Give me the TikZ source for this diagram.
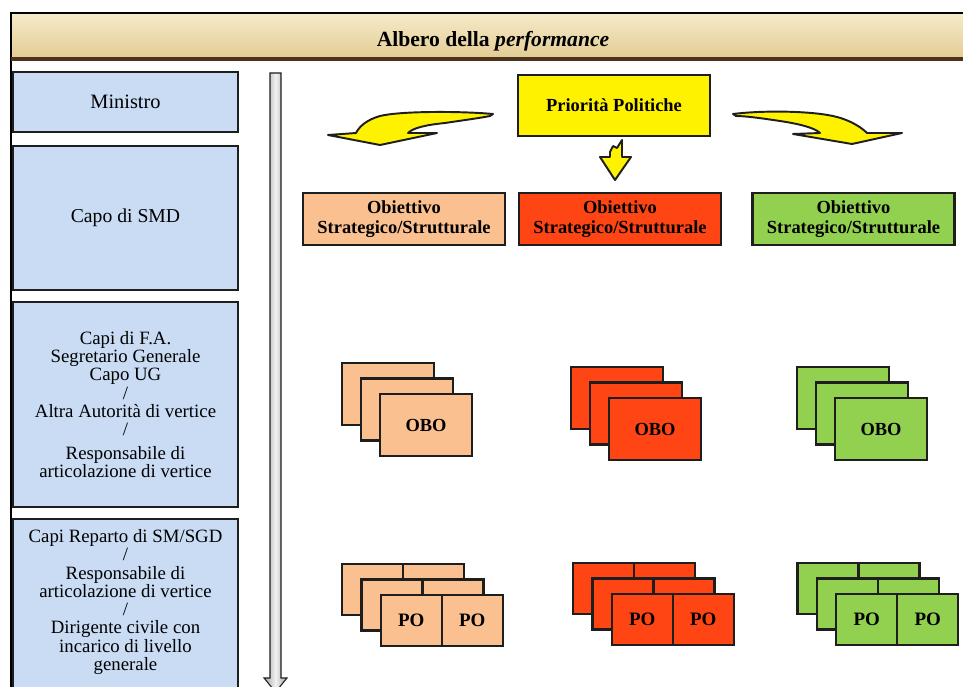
\documentclass[tikz,border=0pt]{standalone}
\usepackage{fontspec}
\setmainfont{Liberation Serif}
\usepackage{tikz}

\definecolor{parch}{HTML}{F2E1B2}
\definecolor{parchdark}{HTML}{E3CC93}
\definecolor{lblue}{HTML}{C9DCF4}
\definecolor{peach}{HTML}{FAC08F}
\definecolor{redor}{HTML}{FF4514}
\definecolor{lgreen}{HTML}{92D050}
\definecolor{edge}{HTML}{1E1E1E}

\begin{document}
\begin{tikzpicture}[x=0.02cm,y=-0.02cm,
  box/.style={draw=edge,line width=1.3pt,inner sep=2pt,align=center},
  lbox/.style={box,fill=lblue,minimum width=4.5cm,font=\fontsize{10.7}{10.4}\selectfont},
  obj/.style={box,minimum width=4.04cm,minimum height=1.04cm,font=\bfseries\fontsize{10.5}{11.4}\selectfont},
  obo/.style={box,minimum width=1.84cm,minimum height=1.24cm,font=\bfseries\fontsize{10.5}{12}\selectfont},
  po/.style={box,minimum width=1.22cm,minimum height=1.02cm,font=\bfseries\fontsize{10.8}{12}\selectfont},
  curvy/.style={fill=yellow,draw=edge,line width=1.1pt,line join=round}]

\useasboundingbox (0,0) rectangle (963,686);
\clip (0,0) rectangle (963,686);

% testata
\shade[top color=parch!70!white,bottom color=parchdark] (11,13) rectangle (970,59);
\draw[line width=1.7pt] (11,700) -- (11,13) -- (970,13);
\draw[line width=2pt,brown!40!black] (11,59) -- (970,59);
\node[font=\bfseries\fontsize{12.3}{14}\selectfont] (titolo) at (493,41) {Albero della \textit{performance}};

% colonna dei livelli
\node[lbox,minimum height=1.2cm,font=\fontsize{11.6}{13}\selectfont] (ministro) at (125.5,102) {Ministro};
\node[lbox,minimum height=2.88cm,font=\fontsize{11.2}{13}\selectfont] (smd) at (125.5,218) {Capo di SMD};
\node[lbox,minimum height=4.1cm] (capifa) at (125.5,404.5) {Capi di F.A.\\Segretario Generale\\Capo UG\\/\\Altra Autorità di vertice\\/\\[3pt]Responsabile di\\articolazione di vertice};
\node[lbox,minimum height=4.02cm] (reparto) at (125.5,619.5) {};
\node[align=center,font=\fontsize{10.7}{10.4}\selectfont] (repartotxt) at (125.5,602) {Capi Reparto di SM/SGD\\/\\Responsabile di\\articolazione di vertice\\/\\Dirigente civile con\\incarico di livello\\generale};

% freccia verticale
\draw[draw=edge,line width=0.6pt,left color=gray!75,right color=gray!75,middle color=gray!10]
  (270,73) -- (281,73) -- (281,678) -- (287,678) -- (275.5,692) -- (264,678) -- (270,678) -- cycle;

% priorita
\node[box,fill=yellow,minimum width=3.84cm,minimum height=1.22cm,font=\bfseries\fontsize{10.5}{12}\selectfont] (priorita) at (614,105.5) {Priorità Politiche};

\draw[curvy] (493,114) .. controls (460,111) and (400,111) .. (380,116)
  .. controls (366,120) and (359,127) .. (356,133) -- (328,135) -- (380,145) -- (437,133) -- (408,133)
  .. controls (413,128) and (425,125) .. (445,123) .. controls (465,120) and (480,118) .. (490,116) -- cycle;
\draw[curvy] (733,114) .. controls (765,110) and (815,111) .. (837,117)
  .. controls (852,121) and (862,128) .. (867,133) -- (902,133) -- (852,144) -- (793,134) -- (820,133)
  .. controls (815,128) and (800,124) .. (780,121) .. controls (760,118) and (745,116) .. (736,116) -- cycle;
\draw[curvy] (610,152) -- (613,146) -- (617,148) -- (622,140) -- (622,157) -- (631,157) -- (615,180)
  -- (600,157) -- (610,157) -- cycle;

% obiettivi strategici/strutturali
\foreach \c/\x/\n in {peach/404/os1,redor/620/os2,lgreen/853.5/os3}
  \node[obj,fill=\c] (\n) at (\x,219) {Obiettivo\\Strategico/Strutturale};

% OBO
\foreach \c/\x/\y/\s in {peach/388/394/a,redor/617/398/b,lgreen/843/398/c}{
  \foreach \k in {0,1,2}
    \node[obo,fill=\c] (obo\s\k) at ({\x+19*\k},{\y+15.5*\k}) {\ifnum\k=2 OBO\fi};
}

% PO
\foreach \c/\x/\y/\s in {peach/372.5/589.5/a,redor/603.5/588.5/b,lgreen/828/588.5/c}{
  \foreach \k in {0,1,2}{
    \node[po,fill=\c] (po\s\k l) at ({\x+19.4*\k},{\y+15.5*\k}) {\ifnum\k=2 PO\fi};
    \node[po,fill=\c] (po\s\k r) at ({\x+61+19.4*\k},{\y+15.5*\k}) {\ifnum\k=2 PO\fi};
  }
}
\end{tikzpicture}
\end{document}
